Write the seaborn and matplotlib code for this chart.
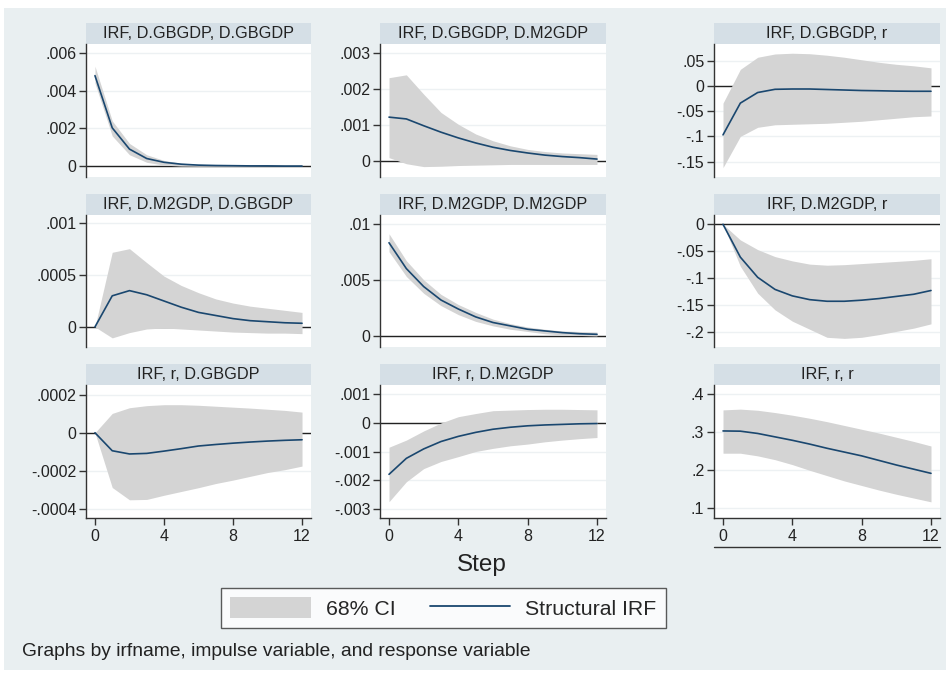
import numpy as np
import pandas as pd
import seaborn as sns
import matplotlib.pyplot as plt
from matplotlib.patches import Rectangle, Patch
from matplotlib.lines import Line2D

# steps of the impulse response
steps = list(range(13))

# panel titles (irfname, impulse, response), row by row
titles = ["IRF, D.GBGDP, D.GBGDP", "IRF, D.GBGDP, D.M2GDP", "IRF, D.GBGDP, r",
          "IRF, D.M2GDP, D.GBGDP", "IRF, D.M2GDP, D.M2GDP", "IRF, D.M2GDP, r",
          "IRF, r, D.GBGDP", "IRF, r, D.M2GDP", "IRF, r, r"]

# D.GBGDP -> D.GBGDP
irf_gb_gb = [0.0048, 0.00203, 0.0009, 0.0004, 0.0002, 0.0001, 0.00005, 0.00003, 0.00002, 0.00001, 0.00001, 0.0, 0.0]
lo_gb_gb = [0.0044, 0.0016, 0.0006, 0.0002, 0.00005, 0.0, -0.00001, -0.00001, -0.00001, 0.0, 0.0, 0.0, 0.0]
hi_gb_gb = [0.0053, 0.0024, 0.0012, 0.0006, 0.0003, 0.00015, 0.0001, 0.00006, 0.00004, 0.00003, 0.00002, 0.00001, 0.00001]

# D.GBGDP -> D.M2GDP
irf_gb_m2 = [0.00122, 0.00117, 0.00098, 0.0008, 0.00064, 0.0005, 0.00038, 0.00029, 0.00022, 0.00016, 0.00012, 0.00009, 0.00005]
lo_gb_m2 = [0.00009, -0.00008, -0.00016, -0.00015, -0.00013, -0.00012, -0.00011, -0.0001, -0.0001, -0.0001, -0.0001, -0.0001, -0.0001]
hi_gb_m2 = [0.00232, 0.0024, 0.00186, 0.00135, 0.00102, 0.00075, 0.00056, 0.00042, 0.00032, 0.00026, 0.00022, 0.0002, 0.00018]

# D.GBGDP -> r
irf_gb_r = [-0.097, -0.034, -0.013, -0.0066, -0.006, -0.006, -0.007, -0.008, -0.009, -0.0095, -0.0102, -0.0105, -0.0105]
lo_gb_r = [-0.162, -0.1, -0.082, -0.077, -0.076, -0.075, -0.074, -0.072, -0.07, -0.067, -0.064, -0.061, -0.0595]
hi_gb_r = [-0.034, 0.033, 0.057, 0.0635, 0.065, 0.064, 0.061, 0.057, 0.052, 0.047, 0.043, 0.04, 0.036]

# D.M2GDP -> D.GBGDP
irf_m2_gb = [0.0, 0.0003, 0.00035, 0.00031, 0.00025, 0.00019, 0.00014, 0.00011, 0.00008, 0.00006, 0.00005, 0.00004, 0.000035]
lo_m2_gb = [0.0, -0.000106, -0.000055, -0.00002, -0.00001, -0.00002, -0.00003, -0.00004, -0.00005, -0.000055, -0.00006, -0.00006, -0.000065]
hi_m2_gb = [0.0, 0.00072, 0.000755, 0.00062, 0.00049, 0.0004, 0.00033, 0.00027, 0.00023, 0.0002, 0.00018, 0.00016, 0.00014]

# D.M2GDP -> D.M2GDP
irf_m2_m2 = [0.0083, 0.006, 0.0044, 0.0032, 0.0024, 0.0017, 0.0012, 0.0009, 0.0006, 0.00045, 0.0003, 0.0002, 0.00015]
lo_m2_m2 = [0.0075, 0.0053, 0.0038, 0.0027, 0.0019, 0.0013, 0.0009, 0.0006, 0.0004, 0.0002, 0.0001, 0.00005, 0.0]
hi_m2_m2 = [0.0091, 0.0067, 0.005, 0.0037, 0.0028, 0.0021, 0.0015, 0.0011, 0.0008, 0.0006, 0.00045, 0.0004, 0.00035]

# D.M2GDP -> r
irf_m2_r = [0.0, -0.061, -0.0985, -0.121, -0.133, -0.14, -0.143, -0.143, -0.141, -0.138, -0.134, -0.13, -0.123]
lo_m2_r = [0.0, -0.078, -0.128, -0.159, -0.18, -0.195, -0.21, -0.212, -0.21, -0.205, -0.199, -0.193, -0.185]
hi_m2_r = [0.0, -0.029, -0.047, -0.06, -0.068, -0.074, -0.076, -0.075, -0.073, -0.071, -0.069, -0.067, -0.064]

# r -> D.GBGDP
irf_r_gb = [0.0, -0.000095, -0.000112, -0.000109, -0.000097, -0.000084, -0.00007, -0.000062, -0.000055, -0.000049, -0.000044, -0.00004, -0.000037]
lo_r_gb = [0.0, -0.000289, -0.000354, -0.000352, -0.00033, -0.00031, -0.00029, -0.000268, -0.00025, -0.00023, -0.00021, -0.000195, -0.000176]
hi_r_gb = [0.0, 0.000102, 0.000132, 0.000143, 0.000148, 0.000148, 0.000145, 0.00014, 0.000135, 0.00013, 0.000124, 0.000118, 0.000109]

# r -> D.M2GDP
irf_r_m2 = [-0.0018, -0.00124, -0.00091, -0.00065, -0.00047, -0.00033, -0.00022, -0.00015, -0.0001, -0.00007, -0.00005, -0.00003, -0.00002]
lo_r_m2 = [-0.00276, -0.00206, -0.0016, -0.00135, -0.00118, -0.001, -0.00089, -0.0008, -0.00074, -0.00066, -0.0006, -0.00055, -0.00051]
hi_r_m2 = [-0.00085, -0.0006, -0.00028, 0.0, 0.00022, 0.00033, 0.00043, 0.00045, 0.00047, 0.00048, 0.00048, 0.00047, 0.00046]

# r -> r
irf_r_r = [0.3036, 0.303, 0.297, 0.288, 0.279, 0.269, 0.258, 0.248, 0.238, 0.226, 0.214, 0.203, 0.192]
lo_r_r = [0.245, 0.245, 0.238, 0.228, 0.215, 0.2, 0.186, 0.172, 0.16, 0.148, 0.137, 0.127, 0.117]
hi_r_r = [0.359, 0.361, 0.358, 0.352, 0.345, 0.337, 0.328, 0.318, 0.308, 0.298, 0.287, 0.276, 0.264]

irfs = [irf_gb_gb, irf_gb_m2, irf_gb_r, irf_m2_gb, irf_m2_m2, irf_m2_r, irf_r_gb, irf_r_m2, irf_r_r]
los = [lo_gb_gb, lo_gb_m2, lo_gb_r, lo_m2_gb, lo_m2_m2, lo_m2_r, lo_r_gb, lo_r_m2, lo_r_r]
his = [hi_gb_gb, hi_gb_m2, hi_gb_r, hi_m2_gb, hi_m2_m2, hi_m2_r, hi_r_gb, hi_r_m2, hi_r_r]

# y axis ticks per panel
yticks = [[0, .002, .004, .006], [0, .001, .002, .003], [-.15, -.1, -.05, 0, .05],
          [0, .0005, .001], [0, .005, .01], [-.2, -.15, -.1, -.05, 0],
          [-.0004, -.0002, 0, .0002], [-.003, -.002, -.001, 0, .001], [.1, .2, .3, .4]]
ylims = [(-0.00058, 0.00648), (-0.00045, 0.00326), (-0.1806, 0.0833),
         (-0.000194, 0.00108), (-0.00098, 0.01077), (-0.228, 0.0173),
         (-0.00045, 0.000252), (-0.00333, 0.00133), (0.0745, 0.4245)]

rows = []
for t, irf, lo, hi in zip(titles, irfs, los, his):
    for s, a, b, c in zip(steps, irf, lo, hi):
        rows.append({"panel": t, "step": s, "irf": a, "lo": b, "hi": c})
df = pd.DataFrame(rows)

sns.set_style("white")
plt.rcParams['font.family'] = ['Liberation Sans', 'DejaVu Sans']

BG = "#e9eff1"
STRIP = "#d5dfe6"
NAVY = "#1a476f"
CI = "#d4d4d4"
INK = "#222222"

W, H = 948, 673
fig = plt.figure(figsize=(W / 100, H / 100), dpi=100, facecolor="white")
fig.add_artist(Rectangle((4 / W, 1 - 670 / H), 942 / W, 662 / H,
                         transform=fig.transFigure, facecolor=BG, edgecolor="none", zorder=0))

cols_px = [(86, 311), (380, 606), (714, 940)]
rows_px = [(44, 177), (215, 347), (385, 518)]
strip_px = 21


def stata_fmt(v, pos=None):
    if abs(v) < 1e-12:
        return "0"
    s = f"{v:g}"
    if s.startswith("0."):
        s = s[1:]
    elif s.startswith("-0."):
        s = "-" + s[2:]
    return s


for i, t in enumerate(titles):
    r, c = divmod(i, 3)
    x0, x1 = cols_px[c]
    y0, y1 = rows_px[r]
    ax = fig.add_axes([x0 / W, 1 - y1 / H, (x1 - x0) / W, (y1 - y0) / H])
    ax.set_facecolor("white")
    sub = df[df["panel"] == t]

    ax.axhline(0, color=INK, lw=1, zorder=1)
    ax.fill_between(sub["step"], sub["lo"], sub["hi"], color=CI, lw=0, zorder=2)
    sns.lineplot(data=sub, x="step", y="irf", ax=ax, color=NAVY, lw=1.2, zorder=3)

    ax.set_xlim(-0.52, 12.52)
    ax.set_ylim(*ylims[i])
    ax.set_yticks(yticks[i])
    ax.yaxis.set_major_formatter(plt.FuncFormatter(stata_fmt))
    ax.grid(axis="y", color="#edf1f3", lw=1)
    ax.set_axisbelow(True)
    ax.set_xlabel("")
    ax.set_ylabel("")

    for side in ["top", "right"]:
        ax.spines[side].set_visible(False)
    ax.spines["left"].set_color("#333333")
    ax.spines["left"].set_linewidth(1)
    ax.tick_params(axis="y", direction="out", length=5, width=1, color="#333333",
                   labelsize=11.5, labelcolor=INK, pad=2, left=True)
    if r == 2:
        ax.set_xticks([0, 4, 8, 12])
        ax.spines["bottom"].set_color("#333333")
        ax.spines["bottom"].set_linewidth(1)
        ax.tick_params(axis="x", direction="out", length=5, width=1, color="#333333",
                       labelsize=11.5, labelcolor=INK, pad=3, bottom=True)
    else:
        ax.spines["bottom"].set_visible(False)
        ax.set_xticks([])

    sh = strip_px / (y1 - y0)
    ax.add_patch(Rectangle((0, 1), 1, sh, transform=ax.transAxes, clip_on=False,
                           facecolor=STRIP, edgecolor="none"))
    ax.text(0.5, 1 + sh / 2, t, transform=ax.transAxes, ha="center", va="center",
            fontsize=11.7, color=INK)

# extra axis line under the right column
fig.add_artist(Line2D([714 / W, 940 / W], [1 - 547 / H, 1 - 547 / H],
                      transform=fig.transFigure, color="#333333", lw=1))

fig.text(482 / W, 1 - 565 / H, "Step", ha="center", va="center", fontsize=17.5, color=INK)

handles = [Patch(facecolor=CI, edgecolor="none"), Line2D([0], [0], color=NAVY, lw=1.3)]
leg = fig.legend(handles, ["68% CI", "Structural IRF"], ncol=2, loc="center",
                 bbox_to_anchor=(443.5 / W, 1 - 608 / H), frameon=True, fancybox=False,
                 fontsize=15.3, handlelength=3.8, handleheight=1.15, handletextpad=0.7,
                 columnspacing=1.6, borderpad=0.45)
leg.get_frame().set_edgecolor("#333333")
leg.get_frame().set_linewidth(1)
leg.get_frame().set_facecolor("white")

fig.text(22 / W, 1 - 652 / H, "Graphs by irfname, impulse variable, and response variable",
         ha="left", va="center", fontsize=13.9, color=INK)

fig.savefig("out.png", dpi=100, facecolor=fig.get_facecolor())
